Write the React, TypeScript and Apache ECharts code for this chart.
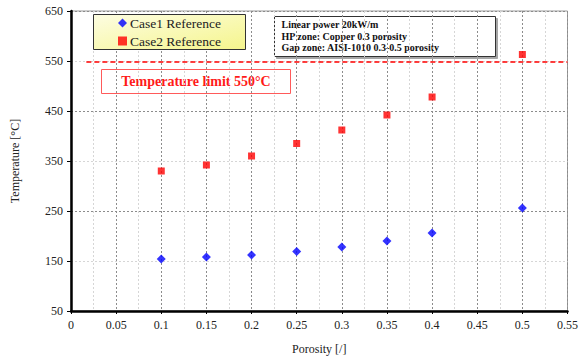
import React, { useEffect, useRef } from "react";
import * as echarts from "echarts";

const porosity = [0.1, 0.15, 0.2, 0.25, 0.3, 0.35, 0.4, 0.5];
const case1 = [154, 158, 162, 169, 178, 190, 206, 256];
const case2 = [330, 342, 360, 385, 412, 442, 478, 563];
const limitX = [0.017, 0.55];
const limitY = [548, 548];
const yLabelValues = [50, 150, 250, 350, 450, 550, 650];
const infoLines = [
  "Linear power 20kW/m",
  "HP zone: Copper 0.3 porosity",
  "Gap zone: AISI-1010 0.3-0.5 porosity",
];
const limitText = "Temperature limit 550°C";

const SERIF = "'Liberation Serif', 'Times New Roman', 'DejaVu Serif', serif";

export default function App() {
  const ref = useRef<HTMLDivElement>(null);
  useEffect(() => {
    if (!ref.current) return;
    const chart = echarts.init(ref.current, undefined, { renderer: "svg" });
    const option: any = {
      animation: false,
      backgroundColor: "#ffffff",
      textStyle: { fontFamily: SERIF },
      grid: {
        left: 71,
        right: 11,
        top: 11,
        bottom: 50,
        show: true,
        borderColor: "#9a9a9a",
        borderWidth: 1,
        backgroundColor: "#ffffff",
      },
      xAxis: {
        type: "value",
        min: 0,
        max: 0.55,
        interval: 0.05,
        name: "Porosity [/]",
        nameLocation: "middle",
        nameGap: 32,
        nameTextStyle: { fontFamily: SERIF, fontSize: 12, color: "#222" },
        axisLine: { show: true, onZero: false, lineStyle: { color: "#000", width: 2.5 } },
        axisTick: { show: true, length: 3, lineStyle: { color: "#000", width: 1 } },
        axisLabel: { fontFamily: SERIF, fontSize: 12, color: "#222", margin: 8 },
        splitLine: { show: true, lineStyle: { color: "#8c8c8c", type: [2, 2], width: 1 } },
        minorTick: { show: false, splitNumber: 2 },
        minorSplitLine: { show: true, lineStyle: { color: "#d6d6d6", type: [2, 2], width: 1 } },
      },
      yAxis: {
        type: "value",
        min: 50,
        max: 650,
        interval: 50,
        name: "Temperature [°C]",
        nameLocation: "middle",
        nameGap: 50,
        nameTextStyle: { fontFamily: SERIF, fontSize: 12, color: "#222" },
        axisLine: { show: true, onZero: false, lineStyle: { color: "#000", width: 2.5 } },
        axisTick: { show: true, length: 4, customValues: yLabelValues, lineStyle: { color: "#000", width: 1 } },
        axisLabel: { fontFamily: SERIF, fontSize: 12, color: "#222", margin: 8, customValues: yLabelValues },
        splitLine: {
          show: true,
          lineStyle: { color: ["#8c8c8c", "#d6d6d6"], type: [2, 2], width: 1 },
        },
      },
      legend: {
        orient: "vertical",
        left: 118,
        top: 16,
        z: 60,
        itemGap: 4,
        itemWidth: 9,
        itemHeight: 9,
        padding: 0,
        textStyle: { fontFamily: SERIF, fontSize: 13.5, color: "#222", padding: [0, 0, 0, -2] },
        data: [
          { name: "Case1 Reference", icon: "diamond" },
          { name: "Case2 Reference", icon: "rect" },
        ],
      },
      graphic: [
        {
          type: "rect",
          left: 93,
          top: 14,
          z: 50,
          shape: { width: 152, height: 35 },
          style: {
            fill: new echarts.graphic.LinearGradient(0, 0, 1, 1, [
              { offset: 0, color: "#fdfde2" },
              { offset: 1, color: "#f5f58c" },
            ]),
            stroke: "#333",
            lineWidth: 1,
          },
        },
        {
          type: "group",
          left: 274,
          top: 16,
          z: 100,
          children: [
            {
              type: "rect",
              shape: { x: 0, y: 0, width: 221, height: 40 },
              style: {
                fill: "#fff",
                stroke: "#333",
                lineWidth: 1,
                shadowColor: "rgba(0,0,0,0.35)",
                shadowOffsetX: 2,
                shadowOffsetY: 2,
                shadowBlur: 0,
              },
            },
            ...infoLines.map((t, i) => ({
              type: "text",
              x: 7,
              y: 8 + i * 11.5,
              style: {
                text: t,
                fontFamily: SERIF,
                fontWeight: "bold",
                fontSize: 10,
                fill: "#111",
                textVerticalAlign: "middle",
              },
            })),
          ],
        },
        {
          type: "group",
          left: 101,
          top: 69,
          z: 100,
          children: [
            {
              type: "rect",
              shape: { x: 0, y: 0, width: 189, height: 24 },
              style: { fill: "#fff", stroke: "#ff5a5a", lineWidth: 1 },
            },
            {
              type: "text",
              x: 94.5,
              y: 12,
              style: {
                text: limitText,
                fontFamily: SERIF,
                fontWeight: "bold",
                fontSize: 14,
                fill: "#ff1a1a",
                textAlign: "center",
                textVerticalAlign: "middle",
              },
            },
          ],
        },
      ],
      series: [
        {
          name: "Temperature limit",
          type: "line",
          data: limitX.map((x, i) => [x, limitY[i]]),
          symbol: "none",
          lineStyle: { color: "#ff0000", width: 1.5, type: [5, 3] },
          silent: true,
          z: 3,
        },
        {
          name: "Case1 Reference",
          type: "scatter",
          data: porosity.map((x, i) => [x, case1[i]]),
          symbol: "diamond",
          symbolSize: 9,
          itemStyle: { color: "#0000ff" },
          z: 5,
        },
        {
          name: "Case2 Reference",
          type: "scatter",
          data: porosity.map((x, i) => [x, case2[i]]),
          symbol: "rect",
          symbolSize: 7,
          itemStyle: { color: "#ff0000" },
          z: 5,
        },
      ],
    };
    chart.setOption(option);
    return () => chart.dispose();
  }, []);
  return (
    <div
      ref={ref}
      style={{ position: "fixed", left: 0, top: 0, width: 581, height: 361 }}
    />
  );
}
